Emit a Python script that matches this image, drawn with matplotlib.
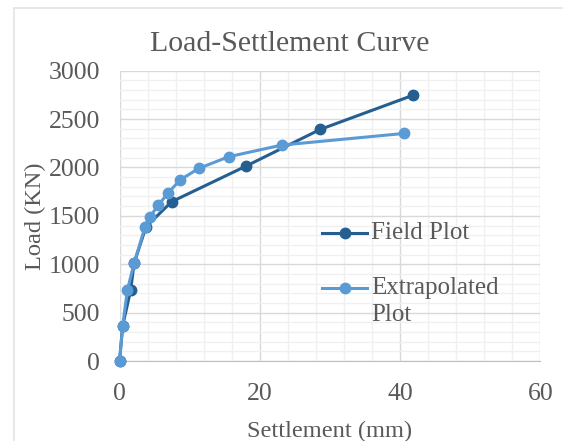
import matplotlib

matplotlib.use("Agg")
import matplotlib.pyplot as plt
from matplotlib.lines import Line2D
from matplotlib.ticker import MultipleLocator

# load test readings: settlement (mm) vs load (KN)
field_settlement = [0.0, 0.45, 1.59, 2.07, 3.78, 7.43, 18.03, 28.6, 41.9]
field_load = [0, 365, 733, 1009, 1388, 1646, 2014, 2393, 2748]

extrap_settlement = [0.0, 0.45, 1.12, 2.07, 3.64, 4.35, 5.53, 6.96, 8.62,
                     11.28, 15.56, 23.1, 40.6]
extrap_load = [0, 365, 733, 1009, 1388, 1491, 1612, 1739, 1870,
               1990, 2111, 2231, 2352]

DARK = "#255E91"
LIGHT = "#5B9BD5"
TXT = "#595959"

plt.rcParams["font.family"] = ["Liberation Serif", "DejaVu Serif"]

fig = plt.figure(figsize=(5.63, 4.41), dpi=100)
ax = fig.add_axes([0.2123, 0.1814, 0.7477, 0.6583])

ax.plot(field_settlement, field_load, "-o", color=DARK, lw=2.2, ms=7.5,
        zorder=3, clip_on=False)
ax.plot(extrap_settlement, extrap_load, "-o", color=LIGHT, lw=2.2, ms=7.5,
        zorder=4, clip_on=False)

ax.set_xlim(0, 60)
ax.set_ylim(0, 3000)
ax.xaxis.set_major_locator(MultipleLocator(20))
ax.xaxis.set_minor_locator(MultipleLocator(4))
ax.yaxis.set_major_locator(MultipleLocator(500))
ax.yaxis.set_minor_locator(MultipleLocator(100))
ax.grid(which="major", color="#D9D9D9", lw=1.0, zorder=0)
ax.grid(which="minor", color="#F0F0F0", lw=1.0, zorder=0)
ax.set_axisbelow(True)
for side in ["top", "right", "left"]:
    ax.spines[side].set_visible(False)
ax.spines["bottom"].set_color("#BFBFBF")
ax.tick_params(which="both", length=0, labelsize=18.5, colors=TXT)
ax.tick_params(axis="y", pad=14)
ax.tick_params(axis="x", pad=16)
for lab in ax.get_xticklabels() + ax.get_yticklabels():
    lab.set_color(TXT)

ax.set_xlabel("Settlement (mm)", fontsize=17.6, color=TXT, labelpad=11)
ax.set_ylabel("Load (KN)", fontsize=17.6, color=TXT, labelpad=2)
fig.text(0.515, 0.900, "Load-Settlement Curve", ha="center", va="center",
         fontsize=21.5, color=TXT)

# legend drawn inside the plot area
for y, col, label in [(0.442, DARK, "Field Plot"),
                      (0.251, LIGHT, "Extrapolated\nPlot")]:
    ax.add_line(Line2D([0.481, 0.588], [y, y], transform=ax.transAxes,
                       color=col, lw=2.2, zorder=5))
    ax.add_line(Line2D([0.5345], [y], transform=ax.transAxes, marker="o",
                       color=col, ms=7.5, zorder=5))
    ax.text(0.598, y + (0.040 if "\n" in label else 0), label,
            transform=ax.transAxes, fontsize=18, color=TXT,
            va="top" if "\n" in label else "center", linespacing=1.33,
            zorder=5)

# chart frame
fig.add_artist(Line2D([0.025, 0.025], [0, 0.982], color="#E3E3E3", lw=1.2))
fig.add_artist(Line2D([0.025, 1.0], [0.982, 0.982], color="#E3E3E3", lw=1.2))

fig.savefig("out.png", dpi=100)
